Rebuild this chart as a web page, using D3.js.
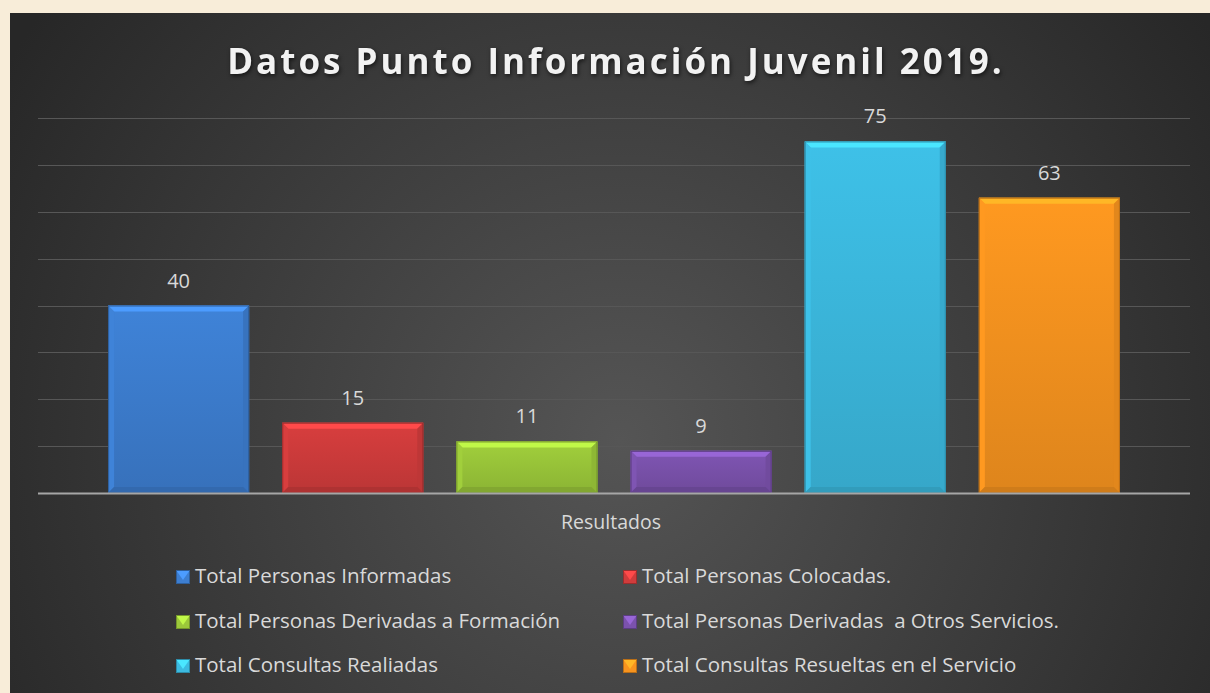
<!DOCTYPE html>
<html>
<head>
<meta charset="utf-8">
<script src="https://cdn.jsdelivr.net/npm/d3@7"></script>
<style>
  body { margin: 0; background: #f8edd9; }
  svg { display: block; }
</style>
</head>
<body>
<svg id="chart" width="1210" height="693"></svg>
<script>
const series = [
  "Total Personas Informadas",
  "Total Personas Colocadas.",
  "Total Personas Derivadas a Formación",
  "Total Personas Derivadas  a Otros Servicios.",
  "Total Consultas Realiadas",
  "Total Consultas Resueltas en el Servicio"
];
const values = [40, 15, 11, 9, 75, 63];
const colors = ["#3d7ed0", "#d03c3c", "#9bc83a", "#7b52ad", "#3cbae0", "#f7941f"];
const category = "Resultados";
const gridTicks = [0, 10, 20, 30, 40, 50, 60, 70, 80];

const svg = d3.select("#chart");
const W = 1210, H = 693;
const font = "'Open Sans', sans-serif";

// panel background
const defs = svg.append("defs");
const bg = defs.append("radialGradient").attr("id", "bg")
  .attr("gradientUnits", "userSpaceOnUse")
  .attr("cx", 620).attr("cy", 440).attr("r", 720);
bg.append("stop").attr("offset", 0).attr("stop-color", "#555555");
bg.append("stop").attr("offset", 1).attr("stop-color", "#272727");

svg.append("rect").attr("x", 10).attr("y", 13).attr("width", W - 10).attr("height", H - 13)
  .attr("fill", "url(#bg)");

svg.append("text")
  .attr("x", 616).attr("y", 74)
  .attr("text-anchor", "middle")
  .attr("font-family", font).attr("font-weight", "bold")
  .attr("font-size", 35).attr("letter-spacing", 3)
  .attr("fill", "#f2f2f2")
  .style("filter", "drop-shadow(1px 2px 2px rgba(0,0,0,0.6))")
  .text("Datos Punto Información Juvenil 2019.");

const plot = { left: 38, right: 1190, top: 118, bottom: 493 };

const y = d3.scaleLinear().domain([0, 80]).range([plot.bottom, plot.top]);
const x = d3.scaleBand().domain(series).range([plot.left + 37, plot.right - 37])
  .paddingInner(0.19).paddingOuter(0.19);

svg.append("g").selectAll("line")
  .data(gridTicks.filter(d => d > 0))
  .join("line")
  .attr("x1", plot.left).attr("x2", plot.right)
  .attr("y1", d => Math.round(y(d)) + 0.5).attr("y2", d => Math.round(y(d)) + 0.5)
  .attr("stroke", "#575757").attr("stroke-width", 1.2);

// bars with bevel
const bev = 6;
const bars = svg.append("g").selectAll("g")
  .data(series.map((s, i) => ({ s, v: values[i], c: colors[i] })))
  .join("g");

bars.each(function (d, i) {
  const g = d3.select(this);
  const x0 = x(d.s), x1 = x0 + x.bandwidth();
  const y0 = y(d.v), y1 = y(0);
  const gid = "bg" + i;
  const grad = defs.append("linearGradient").attr("id", gid)
    .attr("x1", 0).attr("y1", 0).attr("x2", 0).attr("y2", 1);
  grad.append("stop").attr("offset", 0).attr("stop-color", d3.color(d.c).brighter(0.1));
  grad.append("stop").attr("offset", 1).attr("stop-color", d3.color(d.c).darker(0.3));
  g.append("rect").attr("x", x0).attr("y", y0).attr("width", x1 - x0).attr("height", y1 - y0)
    .attr("fill", `url(#${gid})`);
  const poly = (pts, fill) => g.append("polygon").attr("points", pts.map(p => p.join(",")).join(" ")).attr("fill", fill);
  poly([[x0, y0], [x1, y0], [x1 - bev, y0 + bev], [x0 + bev, y0 + bev]], d3.color(d.c).brighter(0.6));
  poly([[x0, y0], [x0 + bev, y0 + bev], [x0 + bev, y1 - bev], [x0, y1]], d3.color(d.c).brighter(0.1));
  poly([[x1, y0], [x1 - bev, y0 + bev], [x1 - bev, y1 - bev], [x1, y1]], d3.color(d.c).darker(0.25));
  poly([[x0, y1], [x0 + bev, y1 - bev], [x1 - bev, y1 - bev], [x1, y1]], d3.color(d.c).darker(0.5));
  g.append("rect").attr("x", x0 + 0.5).attr("y", y0 + 0.5).attr("width", x1 - x0 - 1).attr("height", y1 - y0 - 1)
    .attr("fill", "none").attr("stroke", d3.color(d.c).darker(0.8)).attr("stroke-width", 1);
  g.append("text")
    .attr("x", (x0 + x1) / 2).attr("y", y0 - 18)
    .attr("text-anchor", "middle")
    .attr("font-family", font).attr("font-size", 20)
    .attr("fill", "#d9d9d9")
    .text(d.v);
});

// baseline
svg.append("line")
  .attr("x1", plot.left).attr("x2", plot.right)
  .attr("y1", plot.bottom + 0.5).attr("y2", plot.bottom + 0.5)
  .attr("stroke", "#a6a6a6").attr("stroke-width", 2);

svg.append("text")
  .attr("x", 611).attr("y", 529)
  .attr("text-anchor", "middle")
  .attr("font-family", font).attr("font-size", 19.5)
  .attr("fill", "#d9d9d9")
  .text(category);

// legend
const legendCols = [176, 623];
const legendRows = [577, 622, 666];
const legend = svg.append("g").selectAll("g")
  .data(series.map((s, i) => ({ s, c: colors[i], i })))
  .join("g")
  .attr("transform", d => `translate(${legendCols[d.i % 2]},${legendRows[Math.floor(d.i / 2)]})`);

legend.each(function (d) {
  const g = d3.select(this);
  const s = 14, b = 4;
  g.append("rect").attr("x", 0).attr("y", -s / 2).attr("width", s).attr("height", s).attr("fill", d.c);
  g.append("polygon")
    .attr("points", `0,${-s / 2} ${s},${-s / 2} ${s / 2},${b - 1}`)
    .attr("fill", d3.color(d.c).brighter(0.6));
  g.append("rect").attr("x", 0.5).attr("y", -s / 2 + 0.5).attr("width", s - 1).attr("height", s - 1)
    .attr("fill", "none").attr("stroke", d3.color(d.c).darker(0.8));
  g.append("text")
    .attr("x", s + 5).attr("y", 6)
    .attr("font-family", font).attr("font-size", 20.5)
    .attr("fill", "#d9d9d9")
    .attr("xml:space", "preserve")
    .text(d.s);
});
</script>
</body>
</html>
